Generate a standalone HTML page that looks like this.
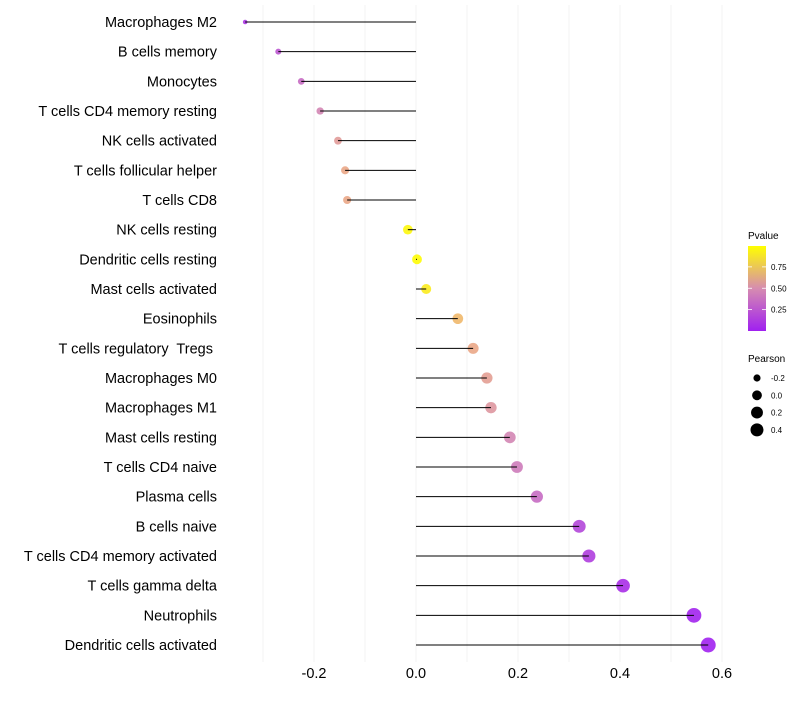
<!DOCTYPE html>
<html><head><meta charset="utf-8"><style>
body{margin:0;background:#fff;}
svg{font-family:"Liberation Sans",sans-serif;}
text{white-space:pre;}
</style></head><body>
<svg id="chart" width="800" height="700" viewBox="0 0 800 700" xmlns="http://www.w3.org/2000/svg">
<defs><linearGradient id="pg" x1="0" y1="1" x2="0" y2="0">
<stop offset="0" stop-color="#A020F0"/><stop offset="0.5" stop-color="#D68CB0"/><stop offset="1" stop-color="#FFFF00"/>
</linearGradient></defs>
<g id="grid"></g>
<g id="marks"></g>
<g id="ylabels"></g>
<g id="xlabels"></g>
<g>
<text x="748" y="239" font-size="10" fill="#000">Pvalue</text>
<rect x="748" y="246" width="18" height="85" fill="url(#pg)"/>
<g id="cbticks"></g>
</g>
<g>
<text x="748" y="362" font-size="10" fill="#000">Pearson</text>
<g id="sizeleg"></g>
</g>
</svg>
<script>
const categories=["Macrophages M2","B cells memory","Monocytes","T cells CD4 memory resting","NK cells activated","T cells follicular helper","T cells CD8","NK cells resting","Dendritic cells resting","Mast cells activated","Eosinophils","T cells regulatory  Tregs ","Macrophages M0","Macrophages M1","Mast cells resting","T cells CD4 naive","Plasma cells","B cells naive","T cells CD4 memory activated","T cells gamma delta","Neutrophils","Dendritic cells activated"];
const pearson=[-0.335,-0.27,-0.225,-0.188,-0.153,-0.139,-0.135,-0.016,0.002,0.02,0.082,0.112,0.139,0.147,0.184,0.198,0.237,0.32,0.339,0.406,0.545,0.573];
const pvalue=[0.1,0.25,0.35,0.47,0.6,0.68,0.68,0.97,0.99,0.93,0.75,0.68,0.62,0.57,0.47,0.42,0.35,0.18,0.14,0.07,0.02,0.01];
const xTicks=[-0.2,0,0.2,0.4,0.6];
const xTickLabels=["-0.2","0.0","0.2","0.4","0.6"];
const gridVals=[-0.3,-0.2,-0.1,0,0.1,0.2,0.3,0.4,0.5,0.6];
const cbVals=[0.25,0.5,0.75];
const cbLabels=["0.25","0.50","0.75"];
const sizeVals=[-0.2,0,0.2,0.4];
const sizeLabels=["-0.2","0.0","0.2","0.4"];

const NS="http://www.w3.org/2000/svg";
const x=v=>416+v*510;
const y=i=>22+i*(623/21);
const r=v=>Math.sqrt(Math.max(1.5,24+56*v));
const cb=p=>331-p*85.5;
function col(p){
  const a=[160,32,240],m=[214,140,176],h=[236,170,130],b=[255,255,0];
  let c;
  if(p<0.5){const t=p/0.5;c=a.map((v,k)=>Math.round(v+(m[k]-v)*t));}
  else if(p<0.7){const t=(p-0.5)/0.2;c=m.map((v,k)=>Math.round(v+(h[k]-v)*t));}
  else{const t=(p-0.7)/0.3;c=h.map((v,k)=>Math.round(v+(b[k]-v)*t));}
  return `rgb(${c[0]},${c[1]},${c[2]})`;
}
function mk(tag,attrs,parent,text){const e=document.createElementNS(NS,tag);for(const k in attrs)e.setAttribute(k,attrs[k]);if(text!==undefined)e.textContent=text;parent.appendChild(e);return e;}
const grid=document.getElementById('grid'),marks=document.getElementById('marks'),yl=document.getElementById('ylabels'),xl=document.getElementById('xlabels');
gridVals.forEach(v=>{
  const l=mk('line',{x1:x(v),x2:x(v),y1:5,y2:662,stroke:'#f0f0f0','stroke-width':0.8},grid);
  
  
});
categories.forEach((c,i)=>{
  const cy=y(i);
  const cir=mk('circle',{cx:x(pearson[i]),cy:cy,r:r(pearson[i]),fill:col(pvalue[i]),'fill-opacity':0.9},marks);
  
  
  const s=mk('line',{x1:x(0),x2:x(pearson[i]),y1:cy,y2:cy,stroke:'#000','stroke-width':1},marks);
  
  
  const t=mk('text',{x:217,y:cy+5,'text-anchor':'end','font-size':14.5,fill:'#000'},yl,c);
  
  
});
xTicks.forEach((v,i)=>{
  const t=mk('text',{x:x(v),y:678,'text-anchor':'middle','font-size':14.5,fill:'#000'},xl,xTickLabels[i]);
  
  
});
const cbt=document.getElementById('cbticks');
cbVals.forEach((v,i)=>{
  const l=mk('line',{x1:748,x2:752,y1:cb(v),y2:cb(v),stroke:'#fff','stroke-width':0.8},cbt);
  
  
  const l2=mk('line',{x1:762,x2:766,y1:cb(v),y2:cb(v),stroke:'#fff','stroke-width':0.8},cbt);
  
  
  const t=mk('text',{x:771,y:cb(v)+3,'font-size':8,fill:'#000'},cbt,cbLabels[i]);
  
  
});
const sl=document.getElementById('sizeleg');
sizeVals.forEach((v,i)=>{
  const cy=378+i*17.3;
  const c=mk('circle',{cx:757,cy:cy,r:Math.min(r(v),6.5),fill:'#000'},sl);
  
  
  const t=mk('text',{x:771,y:cy+3,'font-size':8,fill:'#000'},sl,sizeLabels[i]);
  
  
});
</script>
</body></html>
